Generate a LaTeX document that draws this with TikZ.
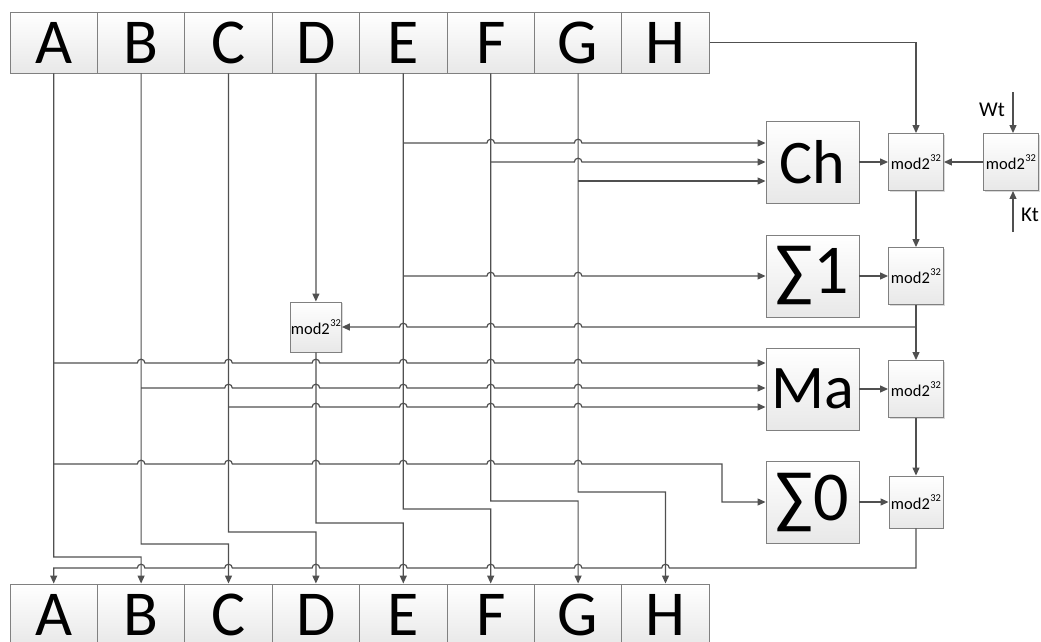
\documentclass[tikz,border=0pt]{standalone}
\usepackage{fontspec}
\setmainfont{Carlito}
\usetikzlibrary{arrows.meta,shadows}
\definecolor{ln}{HTML}{505050}
\definecolor{bd}{HTML}{808080}
\newcommand\hr[2]{-- (#1-3.8,#2) arc[start angle=180,end angle=0,radius=3.8pt]}
\newcommand\hl[2]{-- (#1+3.8,#2) arc[start angle=0,end angle=180,radius=3.8pt]}
\newcommand\modtxt{{\fontsize{16.5}{16.5}\selectfont mod2}\kern0.5pt\raisebox{8.5pt}{\fontsize{10.5}{10.5}\selectfont 32}}
\tikzset{
 box/.style={draw=bd, line width=0.9pt, top color=white, bottom color=black!9, inner sep=0pt,
   drop shadow={shadow xshift=1.2pt, shadow yshift=-1.2pt, opacity=0.25, fill=black!60}},
 reg/.style={box, minimum width=87.4pt, minimum height=61pt, font=\fontsize{64}{64}\selectfont},
 big/.style={inner sep=0pt, font=\fontsize{64}{64}\selectfont},
 fn/.style={box, minimum width=93pt, minimum height=82pt, font=\fontsize{62}{62}\selectfont},
 sg/.style={box, minimum width=93pt, minimum height=82pt, font=\fontsize{70}{70}\selectfont},
 md/.style={box, minimum width=55pt, minimum height=57pt},
 wire/.style={draw=ln, line width=1.2pt},
 arr/.style={wire, -{Triangle[length=8pt,width=7pt]}},
 lbl/.style={font=\fontsize{21}{21}\selectfont, inner sep=0pt},
}
\begin{document}
\begin{tikzpicture}[x=1pt,y=-1pt]
\useasboundingbox (0,0) rectangle (1041,642);
% registers
\foreach \n/\l [count=\i] in {tA/A,tB/B,tC/C,tD/D,tE/E,tF/F,tG/G,tH/H}
  \node[reg] (\n) at ({10+87.4*(\i-0.5)},42.5) {\l};
\foreach \n/\l [count=\i] in {bA/A,bB/B,bC/C,bD/D,bE/E,bF/F,bG/G,bH/H}{
  \node[reg] (\n) at ({10+87.4*(\i-0.5)},614.5) {};
  \node[big] (\n t) at (\n.center) {\l};
}
% function boxes
\node[fn] (ch) at (812.5,162) {Ch};
\node[sg] (s1) at (812.5,276) {∑1};
\node[fn] (ma) at (812.5,389) {Ma};
\node[sg] (s0) at (812.5,502) {∑0};
% adders
\node[md] (m1) at (916,162) {\modtxt};
\node[md] (mwk) at (1011,162) {\modtxt};
\node[md] (m2) at (916,276) {\modtxt};
\node[md] (m3) at (916,389) {\modtxt};
\node[md, minimum width=54pt, minimum height=52pt] (m4) at (916,502) {\modtxt};
\node[md, minimum width=51pt, minimum height=50pt] (mD) at (315.9,327) {\modtxt};
% labels
\node[lbl] (wt) at (992,110) {Wt};
\node[lbl] (kt) at (1030,215) {Kt};
\coordinate (wt0) at (1013,92);
\coordinate (kt0) at (1013,232);
% right side wiring
\draw[arr] (tH.east) -| (m1.north);
\draw[arr] (wt0) -- (wt0 |- mwk.north);
\draw[arr] (kt0) -- (kt0 |- mwk.south);
\draw[arr] (mwk.west) -- (m1.east);
\draw[arr] (ch.east) -- (m1.west);
\draw[arr] (m1.south) -- (m2.north);
\draw[arr] (s1.east) -- (m2.west);
\draw[arr] (m2.south) -- (m3.north);
\draw[arr] (ma.east) -- (m3.west);
\draw[arr] (m3.south) -- (m4.north);
\draw[arr] (s0.east) -- (m4.west);
\coordinate (j1) at (916,327);
\draw[arr] (j1) \hl{578.1}{327} \hl{490.7}{327} \hl{403.3}{327} -- (mD.east);
\draw[arr] (m4.south) -- (916,568) \hl{665.5}{568} \hl{578.1}{568} \hl{490.7}{568} \hl{403.3}{568}
   \hl{315.9}{568} \hl{228.5}{568} \hl{141.1}{568} -- (53.7,568) -- (bA.north);
% A
\draw[arr] (tA.south) -- (53.7,557) -- (141.1,557) -- (bB.north);
\draw[arr] (53.7,363) \hr{141.1}{363} \hr{228.5}{363} \hr{315.9}{363} \hr{403.3}{363}
   \hr{490.7}{363} \hr{578.1}{363} -- (ma.west |- 0,363);
\draw[arr] (53.7,464) \hr{141.1}{464} \hr{228.5}{464} \hr{315.9}{464} \hr{403.3}{464}
   \hr{490.7}{464} \hr{578.1}{464} -- (722,464) -- (722,502) -- (s0.west);
% B
\draw[arr] (tB.south) -- (141.1,544) -- (228.5,544) -- (bC.north);
\draw[arr] (141.1,388) \hr{228.5}{388} \hr{315.9}{388} \hr{403.3}{388}
   \hr{490.7}{388} \hr{578.1}{388} -- (ma.west |- 0,388);
% C
\draw[arr] (tC.south) -- (228.5,532) -- (315.9,532) -- (bD.north);
\draw[arr] (228.5,407) \hr{315.9}{407} \hr{403.3}{407}
   \hr{490.7}{407} \hr{578.1}{407} -- (ma.west |- 0,407);
% D
\draw[arr] (tD.south) -- (mD.north);
\draw[arr] (mD.south) -- (315.9,523) -- (403.3,523) -- (bE.north);
% E
\draw[arr] (tE.south) -- (403.3,509) -- (490.7,509) -- (bF.north);
\draw[arr] (403.3,143) \hr{490.7}{143} \hr{578.1}{143} -- (ch.west |- 0,143);
\draw[arr] (403.3,276) \hr{490.7}{276} \hr{578.1}{276} -- (s1.west);
% F
\draw[arr] (tF.south) -- (490.7,501) -- (578.1,501) -- (bG.north);
\draw[arr] (490.7,162) \hr{578.1}{162} -- (ch.west);
% G
\draw[arr] (tG.south) -- (578.1,492) -- (665.5,492) -- (bH.north);
\draw[arr] (578.1,181) -- (ch.west |- 0,181);
\end{tikzpicture}
\end{document}
